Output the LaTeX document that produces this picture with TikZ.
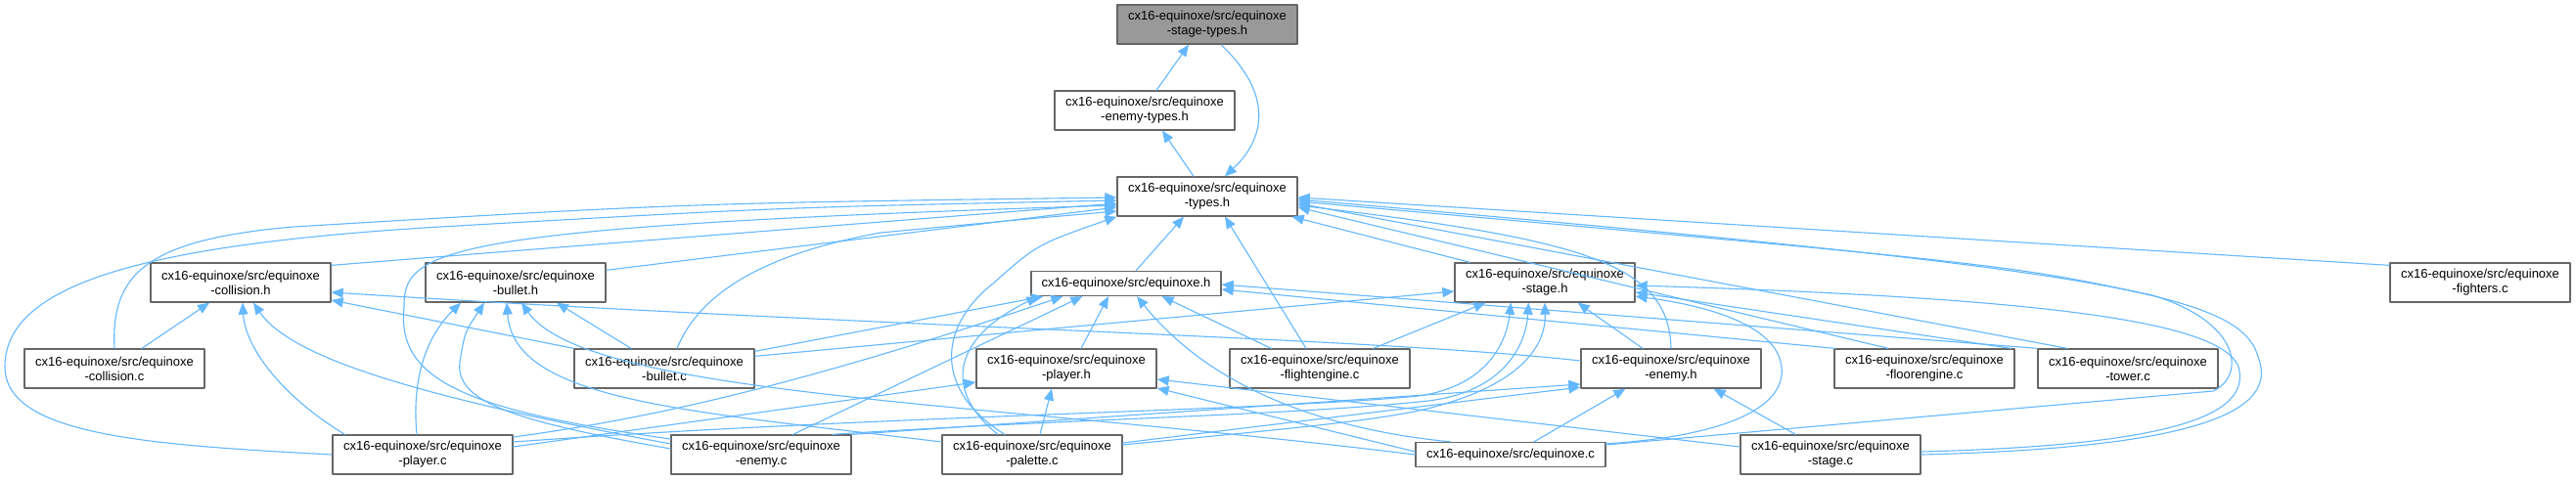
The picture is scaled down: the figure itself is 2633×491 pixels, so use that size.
\documentclass[tikz,border=0pt]{standalone}
\usepackage{fontspec}
\setmainfont{Liberation Sans}
\usetikzlibrary{arrows.meta,calc}
\definecolor{edgeblue}{HTML}{63B8FF}
\definecolor{boxgray}{HTML}{666666}
\definecolor{rootgray}{HTML}{999999}
\tikzset{
  box/.style={draw=boxgray,fill=white,line width=1.3pt,minimum width=184pt,
    minimum height=40pt,inner sep=0pt,align=center,font=\fontsize{13}{15}\selectfont},
  onebox/.style={box,minimum width=194pt,minimum height=25pt},
  rootbox/.style={box,fill=rootgray},
  inc/.style={draw=edgeblue,line width=1.1pt,-{Triangle[length=12pt,width=10pt]}}
}

\begin{document}
\begin{tikzpicture}[x=1pt,y=-1pt,line cap=round,line join=round]
  \fill[white] (0,0) rectangle (2633,491);
  \useasboundingbox (0,0) rectangle (2633,491);
  % headers
  \node[rootbox] (sth) at (1234,25) {cx16-equinoxe/src/equinoxe\\-stage-types.h};
  \node[box] (eth) at (1170,113) {cx16-equinoxe/src/equinoxe\\-enemy-types.h};
  \node[box] (tyh) at (1234,201) {cx16-equinoxe/src/equinoxe\\-types.h};
  \node[box] (colh) at (246,289) {cx16-equinoxe/src/equinoxe\\-collision.h};
  \node[box] (bulh) at (527,289) {cx16-equinoxe/src/equinoxe\\-bullet.h};
  \node[onebox] (eqh) at (1151,290) {cx16-equinoxe/src/equinoxe.h};
  \node[box] (sgh) at (1579,289) {cx16-equinoxe/src/equinoxe\\-stage.h};
  \node[box] (plh) at (1090,377) {cx16-equinoxe/src/equinoxe\\-player.h};
  \node[box] (enh) at (1708,377) {cx16-equinoxe/src/equinoxe\\-enemy.h};
  % sources
  \node[box] (fic) at (2535,289) {cx16-equinoxe/src/equinoxe\\-fighters.c};
  \node[box] (colc) at (117,377) {cx16-equinoxe/src/equinoxe\\-collision.c};
  \node[box] (bulc) at (679,377) {cx16-equinoxe/src/equinoxe\\-bullet.c};
  \node[box] (flc) at (1349,377) {cx16-equinoxe/src/equinoxe\\-flightengine.c};
  \node[box] (flo) at (1967,377) {cx16-equinoxe/src/equinoxe\\-floorengine.c};
  \node[box] (tow) at (2175,377) {cx16-equinoxe/src/equinoxe\\-tower.c};
  \node[box] (plc) at (432,465) {cx16-equinoxe/src/equinoxe\\-player.c};
  \node[box] (enc) at (778,465) {cx16-equinoxe/src/equinoxe\\-enemy.c};
  \node[box] (pac) at (1055,465) {cx16-equinoxe/src/equinoxe\\-palette.c};
  \node[onebox] (eqc) at (1544,465) {cx16-equinoxe/src/equinoxe.c};
  \node[box] (stc) at (1871,465) {cx16-equinoxe/src/equinoxe\\-stage.c};

  % top chain
  \draw[inc] ($(eth.north)+(12,0)$) -- ($(sth.south)+(-19,0)$);
  \draw[inc] ($(tyh.north)+(-14,0)$) -- ($(eth.south)+(18,0)$);
  \draw[inc] ($(sth.south)+(14,0)$) .. controls (1300,95) and (1295,140) .. ($(tyh.north)+(18,0)$);

  % into types.h
  \draw[inc] (colc.north) .. controls (113,280) and (150,245) .. (300,232)
    .. controls (700,208) .. ($(tyh.west)+(0,1)$);
  \draw[inc] (plc.west) .. controls (150,455) and (5,445) .. (5,375)
    .. controls (5,290) and (150,250) .. (450,232) .. controls (800,212) .. ($(tyh.west)+(0,4)$);
  \draw[inc] ($(colh.north east)+(0,3)$) -- ($(tyh.west)+(0,7)$);
  \draw[inc] ($(enc.west)+(0,-16)$) .. controls (480,420) and (405,390) .. (413,315)
    .. controls (412,255) and (445,232) .. ($(tyh.west)+(0,9)$);
  \draw[inc] ($(bulh.north east)+(0,8)$) -- ($(tyh.west)+(0,11)$);
  \draw[inc] ($(bulc.north)+(13,0)$) .. controls (715,300) and (780,260) .. (900,238)
    .. controls (1050,224) .. ($(tyh.west)+(0,15)$);
  \draw[inc] ($(pac.north)+(-28,0)$) .. controls (955,400) and (958,335) .. (1015,290)
    .. controls (1060,250) .. (tyh.south west);
  \draw[inc] ($(eqh.north)+(10,0)$) -- ($(tyh.south)+(-24,0)$);
  \draw[inc] ($(flc.north)+(-14,0)$) -- ($(tyh.south)+(18,0)$);
  \draw[inc] ($(sgh.north west)+(16,0)$) -- ($(tyh.south east)+(-6,0)$);
  \draw[inc] (enh.north) .. controls (1706,270) and (1620,245) .. ($(tyh.east)+(0,9)$);
  \draw[inc] ($(flo.north)+(-37,0)$) -- ($(tyh.east)+(0,11)$);
  \draw[inc] ($(tow.north)+(-62,0)$) -- ($(tyh.east)+(0,7)$);
  \draw[inc] ($(fic.north west)+(0,3)$) -- ($(tyh.east)+(0,1)$);
  \draw[inc] (stc.east) .. controls (2250,458) and (2330,420) .. (2308,365)
    .. controls (2290,300) and (2150,275) .. ($(tyh.east)+(0,3)$);
  \draw[inc] ($(eqc.east)+(0,-10)$) -- (2262,400) .. controls (2295,385) and (2292,330) .. (2200,302)
    .. controls (2050,270) .. ($(tyh.east)+(0,5)$);

  % into collision.h
  \draw[inc] ($(colc.north)+(28,0)$) -- ($(colh.south)+(-32,0)$);
  \draw[inc] ($(plc.north west)+(13,0)$) .. controls (280,400) and (250,350) .. ($(colh.south)+(2,0)$);
  \draw[inc] ($(enc.west)+(0,-11)$) .. controls (450,410) and (300,370) .. ($(colh.south)+(13,0)$);
  \draw[inc] (bulc.north west) -- ($(colh.east)+(0,18)$);
  \draw[inc] ($(enh.west)+(0,-8)$) .. controls (1400,345) and (900,335) .. ($(colh.east)+(0,10)$);

  % into bullet.h
  \draw[inc] ($(bulc.north)+(-34,0)$) -- ($(bulh.south)+(42,0)$);
  \draw[inc] ($(plc.north)+(-6,0)$) .. controls (420,380) and (440,340) .. ($(bulh.south)+(-56,0)$);
  \draw[inc] ($(enc.west)+(0,-6)$) .. controls (520,430) and (465,410) .. (470,370)
    .. controls (475,340) .. ($(bulh.south)+(-32,0)$);
  \draw[inc] ($(pac.west)+(0,-13)$) .. controls (700,420) and (525,410) .. ($(bulh.south)+(-9,0)$);
  \draw[inc] (eqc.west) .. controls (1000,410) and (600,405) .. ($(bulh.south)+(6,0)$);

  % into equinoxe.h
  \draw[inc] ($(bulc.north east)+(0,3)$) -- ($(eqh.south west)+(13,0)$);
  \draw[inc] ($(plc.east)+(0,-18)$) .. controls (650,430) and (800,400) .. ($(eqh.south west)+(33,0)$);
  \draw[inc] ($(enc.north east)+(-60,0)$) -- ($(eqh.south west)+(53,0)$);
  \draw[inc] ($(pac.north)+(-35,0)$) .. controls (970,405) and (965,350) .. ($(eqh.south west)+(8,0)$);
  \draw[inc] ($(plh.north)+(15,0)$) -- ($(eqh.south)+(-18,0)$);
  \draw[inc] ($(eqc.north west)+(36,0)$) .. controls (1360,440) and (1240,400) .. ($(eqh.south)+(11,0)$);
  \draw[inc] ($(flc.north west)+(43,0)$) -- ($(eqh.south east)+(-61,0)$);
  \draw[inc] ($(flo.north west)+(1,0)$) -- ($(eqh.east)+(0,6)$);
  \draw[inc] (tow.north west) -- ($(eqh.east)+(0,1)$);

  % into stage.h
  \draw[inc] ($(bulc.north east)+(0,8)$) -- ($(sgh.west)+(0,9)$);
  \draw[inc] ($(flc.north east)+(-38,0)$) -- ($(sgh.south west)+(32,0)$);
  \draw[inc] ($(plc.east)+(0,-13)$) .. controls (900,425) and (1300,420) .. (1450,405)
    .. controls (1520,395) and (1540,350) .. ($(sgh.south west)+(58,0)$);
  \draw[inc] ($(enc.north east)+(-20,0)$) .. controls (1100,428) and (1320,425) .. (1460,410)
    .. controls (1540,400) and (1560,350) .. ($(sgh.south west)+(76,0)$);
  \draw[inc] ($(pac.east)+(0,-10)$) .. controls (1300,440) and (1420,430) .. (1470,415)
    .. controls (1560,390) and (1580,350) .. (sgh.south);
  \draw[inc] ($(enh.north)+(-29,0)$) -- ($(sgh.south east)+(-59,0)$);
  \draw[inc] ($(flo.north east)+(-4,0)$) -- ($(sgh.east)+(0,10)$);
  \draw[inc] ($(stc.east)+(0,-3)$) .. controls (2240,455) and (2300,420) .. (2288,375)
    .. controls (2270,330) and (2100,305) .. ($(sgh.east)+(0,3)$);
  \draw[inc] ($(eqc.north east)+(0,2)$) .. controls (1780,445) and (1830,410) .. (1820,370)
    .. controls (1810,330) and (1740,312) .. ($(sgh.east)+(0,14)$);

  % into enemy.h
  \draw[inc] (enc.north east) -- ($(enh.west)+(0,16)$);
  \draw[inc] ($(pac.east)+(0,-12)$) -- ($(enh.west)+(0,19)$);
  \draw[inc] ($(eqc.north)+(24,0)$) -- ($(enh.south west)+(46,0)$);
  \draw[inc] ($(stc.north west)+(57,0)$) -- ($(enh.south east)+(-49,0)$);

  % into player.h
  \draw[inc] ($(plc.east)+(0,-8)$) -- ($(plh.west)+(0,14)$);
  \draw[inc] ($(pac.north)+(8,0)$) -- ($(plh.south)+(-15,0)$);
  \draw[inc] ($(eqc.west)+(0,-3)$) -- ($(plh.east)+(0,20)$);
  \draw[inc] ($(stc.west)+(0,-8)$) -- ($(plh.east)+(0,11)$);
\end{tikzpicture}
\end{document}
